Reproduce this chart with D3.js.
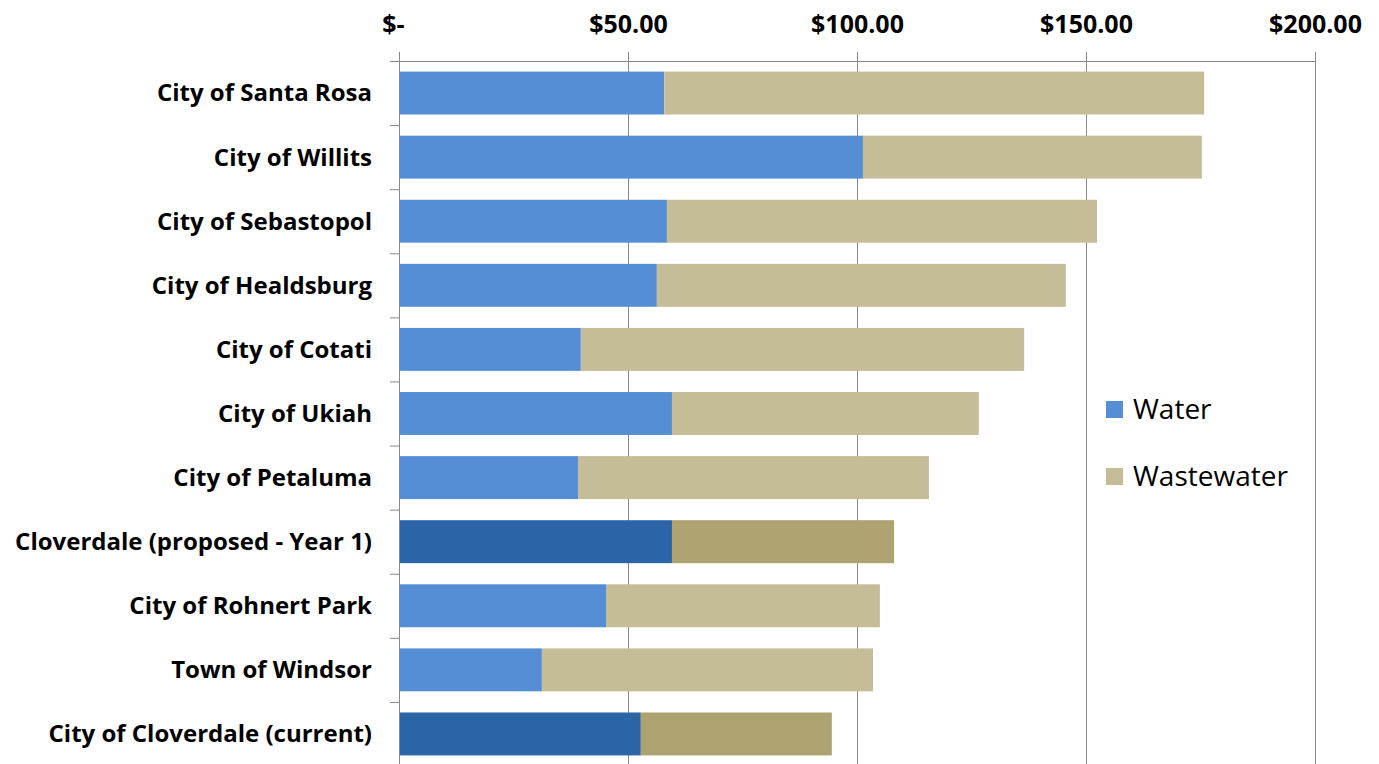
<!DOCTYPE html>
<html>
<head>
<meta charset="utf-8">
<script src="https://cdn.jsdelivr.net/npm/d3@7"></script>
<style>
  body { margin: 0; background: #fff; }
  svg { display: block; }
</style>
</head>
<body>
<div id="chart-area"></div>
<script>
const cities = ["City of Santa Rosa", "City of Willits", "City of Sebastopol", "City of Healdsburg",
    "City of Cotati", "City of Ukiah", "City of Petaluma", "Cloverdale (proposed - Year 1)",
    "City of Rohnert Park", "Town of Windsor", "City of Cloverdale (current)"];
const water = [57.9, 101.3, 58.5, 56.3, 39.7, 59.6, 39.1, 59.6, 45.2, 31.2, 52.8];
const wastewater = [117.9, 74.0, 93.9, 89.3, 96.8, 67.0, 76.6, 48.5, 59.8, 72.3, 41.7];
const highlighted = ["Cloverdale (proposed - Year 1)", "City of Cloverdale (current)"];
const tickValues = [0, 50, 100, 150, 200];
const seriesNames = ["Water", "Wastewater"];

const margin = {left: 399, right: 64, top: 61, bottom: -2};
const width = 1379 - margin.left - margin.right,
    height = 764 - margin.top - margin.bottom;

const colors = {
    Water: "#558ed5", Wastewater: "#c4bd97",
    WaterDark: "#2b65a8", WastewaterDark: "#aca370"
};

const svg = d3.select('#chart-area')
    .append('svg')
    .attr('width', 1379)
    .attr('height', 764);

const g = svg.append('g')
    .attr('transform', 'translate(' + margin.left + ', ' + margin.top + ')');

const xScale = d3.scaleLinear()
    .domain([0, 200])
    .range([0, width]);

const yScale = d3.scaleBand()
    .domain(cities)
    .range([0, height])
    .paddingInner(0.33)
    .paddingOuter(0.165);

// gridlines
g.append('g')
    .selectAll('line')
    .data(tickValues.slice(1))
    .enter().append('line')
    .attr('x1', d => xScale(d) + 0.5)
    .attr('x2', d => xScale(d) + 0.5)
    .attr('y1', 0)
    .attr('y2', height)
    .attr('stroke', '#888')
    .attr('stroke-width', 1);

// top axis
const xAxisCall = d3.axisTop(xScale)
    .tickValues(tickValues)
    .tickSize(9)
    .tickPadding(19)
    .tickFormat(d => d === 0 ? '$-' : '$' + d3.format('.2f')(d));

const xAxis = g.append('g').call(xAxisCall);
xAxis.select('.domain').attr('stroke', '#888').attr('d', 'M0,0.5H' + width);
xAxis.selectAll('.tick line').attr('stroke', '#888');
xAxis.selectAll('text')
    .attr('font-family', '"Open Sans", Lato, sans-serif')
    .attr('font-weight', 'bold')
    .attr('font-size', '25px')
    .attr('fill', '#000');
xAxis.selectAll('.tick').filter(d => d === 0).select('text').attr('dx', -6);

// left axis
const step = yScale.step();
const leftAxis = g.append('g');
leftAxis.append('line')
    .attr('x1', 0.5).attr('x2', 0.5)
    .attr('y1', 0).attr('y2', height)
    .attr('stroke', '#888');
leftAxis.selectAll('line.tk')
    .data(d3.range(cities.length + 1))
    .enter().append('line')
    .attr('class', 'tk')
    .attr('x1', -9).attr('x2', 0)
    .attr('y1', i => i * step + 0.5)
    .attr('y2', i => i * step + 0.5)
    .attr('stroke', '#888');

leftAxis.selectAll('text')
    .data(cities)
    .enter().append('text')
    .attr('x', -27)
    .attr('y', d => yScale(d) + yScale.bandwidth() / 2)
    .attr('dy', '0.35em')
    .attr('text-anchor', 'end')
    .attr('font-family', '"Open Sans", Lato, sans-serif')
    .attr('font-weight', 'bold')
    .attr('font-size', '24px')
    .attr('fill', '#000')
    .text(d => d);

// bars
const rows = cities.map((c, i) => ({city: c, water: water[i], wastewater: wastewater[i]}));

const bars = g.append('g');
rows.forEach(d => {
    const dark = highlighted.includes(d.city);
    bars.append('rect')
        .attr('x', xScale(0) + 1)
        .attr('y', yScale(d.city))
        .attr('width', xScale(d.water) - xScale(0) - 1)
        .attr('height', yScale.bandwidth())
        .attr('fill', dark ? colors.WaterDark : colors.Water);
    bars.append('rect')
        .attr('x', xScale(d.water))
        .attr('y', yScale(d.city))
        .attr('width', xScale(d.water + d.wastewater) - xScale(d.water))
        .attr('height', yScale.bandwidth())
        .attr('fill', dark ? colors.WastewaterDark : colors.Wastewater);
});

// legend
const legend = svg.append('g')
    .attr('transform', 'translate(1106, 401)');

seriesNames.forEach((name, i) => {
    const legendRow = legend.append('g')
        .attr('transform', 'translate(0, ' + (i * 67) + ')');

    legendRow.append('rect')
        .attr('width', 17)
        .attr('height', 17)
        .attr('fill', colors[name]);

    legendRow.append('text')
        .attr('x', 27)
        .attr('y', 18)
        .attr('font-family', '"Open Sans", Lato, sans-serif')
        .attr('font-size', '28px')
        .attr('fill', '#000')
        .text(name);
});
</script>
</body>
</html>
